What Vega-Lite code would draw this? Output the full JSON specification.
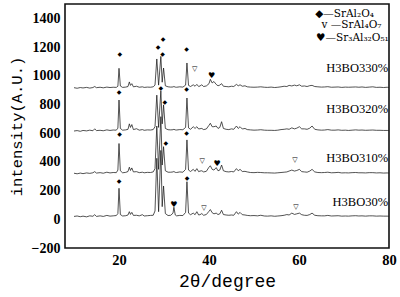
{
"$schema": "https://vega.github.io/schema/vega-lite/v6.json",
"width": 324, "height": 244,
"autosize": {"type": "none"},
"padding": {"left": 65, "top": 4, "right": 11, "bottom": 49},
"background": "white",
"config": {"view": {"stroke": "#111", "strokeWidth": 1.6}},
"datasets": {
"ref": [{"x":20.0,"t":-110},{"x":28.4,"t":-57},{"x":29.4,"t":-5},{"x":30.0,"t":-95},{"x":35.2,"t":-61},{"x":40.6,"t":-149},{"x":43.2,"t":-163},{"x":46.1,"t":-144},{"x":47.5,"t":-151},{"x":63.2,"t":-167}],
"marks": [
{"x":20.2,"y":1152,"m":"◆"},{"x":28.7,"y":1203,"m":"◆"},{"x":29.8,"y":1257,"m":"◆"},{"x":29.7,"y":1150,"m":"◆"},{"x":35.0,"y":1189,"m":"◆"},{"x":36.8,"y":1045,"m":"▽"},{"x":40.6,"y":997,"m":"♥"},
{"x":20.0,"y":889,"m":"◆"},{"x":29.3,"y":912,"m":"◆"},{"x":30.2,"y":817,"m":"◆"},{"x":35.0,"y":905,"m":"◆"},
{"x":20.1,"y":596,"m":"◆"},{"x":35.0,"y":604,"m":"◆"},{"x":30.4,"y":535,"m":"◆"},{"x":38.5,"y":406,"m":"▽"},{"x":41.8,"y":387,"m":"♥"},{"x":59.1,"y":413,"m":"▽"},
{"x":20.0,"y":269,"m":"◆"},{"x":35.1,"y":286,"m":"◆"},{"x":32.2,"y":100,"m":"♥"},{"x":38.9,"y":77,"m":"▽"},{"x":59.3,"y":88,"m":"▽"}],
"leg": [{"x":63.6,"y":1433,"t":"◆—SrAl₂O₄"},{"x":65.0,"y":1354,"t":"v —SrAl₄O₇"},{"x":63.8,"y":1266,"t":"♥—Sr₃Al₃₂O₅₁"}],
"lab": [{"x":79.8,"y":1055,"t":"H3BO330%"},{"x":79.8,"y":769,"t":"H3BO320%"},{"x":79.8,"y":427,"t":"H3BO310%"},{"x":79.8,"y":121,"t":"H3BO30%"}],
"xrd": [
{"s":"a","x":10.0,"y":917},{"s":"a","x":10.7,"y":913},{"s":"a","x":11.4,"y":918},{"s":"a","x":12.0,"y":915},{"s":"a","x":12.8,"y":919},{"s":"a","x":13.5,"y":914},{"s":"a","x":14.2,"y":918},{"s":"a","x":14.6,"y":925},{"s":"a","x":15.0,"y":917},{"s":"a","x":15.8,"y":920},{"s":"a","x":16.5,"y":916},{"s":"a","x":17.3,"y":921},{"s":"a","x":18.0,"y":918},{"s":"a","x":18.7,"y":920},{"s":"a","x":19.4,"y":919},{"s":"a","x":19.75,"y":927},{"s":"a","x":20.0,"y":1052},{"s":"a","x":20.3,"y":929},{"s":"a","x":20.8,"y":919},{"s":"a","x":21.5,"y":921},{"s":"a","x":22.0,"y":925},{"s":"a","x":22.3,"y":957},{"s":"a","x":22.55,"y":933},{"s":"a","x":22.85,"y":945},{"s":"a","x":23.2,"y":923},{"s":"a","x":23.9,"y":927},{"s":"a","x":24.5,"y":920},{"s":"a","x":25.2,"y":923},{"s":"a","x":25.6,"y":919},{"s":"a","x":26.3,"y":921},{"s":"a","x":27.0,"y":920},{"s":"a","x":27.6,"y":923},{"s":"a","x":28.0,"y":935},{"s":"a","x":28.4,"y":1117},{"s":"a","x":28.8,"y":935},{"s":"a","x":29.3,"y":1135},{"s":"a","x":29.6,"y":955},{"s":"a","x":29.9,"y":1054},{"s":"a","x":30.3,"y":930},{"s":"a","x":30.9,"y":923},{"s":"a","x":31.5,"y":921},{"s":"a","x":32.0,"y":922},{"s":"a","x":32.2,"y":925},{"s":"a","x":32.5,"y":921},{"s":"a","x":32.8,"y":920},{"s":"a","x":33.5,"y":923},{"s":"a","x":34.2,"y":921},{"s":"a","x":34.8,"y":935},{"s":"a","x":35.1,"y":1089},{"s":"a","x":35.45,"y":933},{"s":"a","x":35.9,"y":925},{"s":"a","x":36.5,"y":937},{"s":"a","x":36.9,"y":927},{"s":"a","x":37.3,"y":940},{"s":"a","x":37.7,"y":925},{"s":"a","x":38.0,"y":929},{"s":"a","x":38.4,"y":937},{"s":"a","x":38.8,"y":925},{"s":"a","x":39.4,"y":929},{"s":"a","x":40.0,"y":945},{"s":"a","x":40.3,"y":975},{"s":"a","x":40.7,"y":950},{"s":"a","x":41.1,"y":960},{"s":"a","x":41.6,"y":940},{"s":"a","x":42.0,"y":930},{"s":"a","x":42.4,"y":935},{"s":"a","x":42.8,"y":945},{"s":"a","x":43.2,"y":927},{"s":"a","x":43.8,"y":925},{"s":"a","x":44.4,"y":923},{"s":"a","x":45.0,"y":927},{"s":"a","x":45.5,"y":925},{"s":"a","x":46.1,"y":940},{"s":"a","x":46.5,"y":930},{"s":"a","x":46.9,"y":937},{"s":"a","x":47.4,"y":927},{"s":"a","x":48.0,"y":930},{"s":"a","x":48.5,"y":923},{"s":"a","x":49.2,"y":921},{"s":"a","x":50.0,"y":920},{"s":"a","x":50.8,"y":921},{"s":"a","x":51.5,"y":923},{"s":"a","x":52.3,"y":920},{"s":"a","x":53.0,"y":919},{"s":"a","x":53.8,"y":921},{"s":"a","x":54.6,"y":918},{"s":"a","x":55.3,"y":920},{"s":"a","x":56.0,"y":923},{"s":"a","x":56.7,"y":927},{"s":"a","x":57.3,"y":925},{"s":"a","x":57.8,"y":933},{"s":"a","x":58.4,"y":929},{"s":"a","x":59.0,"y":935},{"s":"a","x":59.5,"y":930},{"s":"a","x":60.1,"y":937},{"s":"a","x":60.6,"y":927},{"s":"a","x":61.2,"y":929},{"s":"a","x":61.8,"y":925},{"s":"a","x":62.4,"y":931},{"s":"a","x":62.9,"y":933},{"s":"a","x":63.5,"y":925},{"s":"a","x":64.2,"y":923},{"s":"a","x":65.0,"y":921},{"s":"a","x":65.7,"y":922},{"s":"a","x":66.4,"y":924},{"s":"a","x":67.2,"y":920},{"s":"a","x":68.0,"y":921},{"s":"a","x":68.7,"y":922},{"s":"a","x":69.5,"y":919},{"s":"a","x":70.3,"y":921},{"s":"a","x":71.0,"y":920},{"s":"a","x":71.8,"y":921},{"s":"a","x":72.6,"y":922},{"s":"a","x":73.3,"y":920},{"s":"a","x":74.0,"y":922},{"s":"a","x":74.8,"y":919},{"s":"a","x":75.6,"y":921},{"s":"a","x":76.4,"y":923},{"s":"a","x":77.2,"y":919},{"s":"a","x":78.0,"y":920},{"s":"a","x":78.8,"y":918},{"s":"a","x":79.6,"y":920},{"s":"a","x":80.0,"y":918},
{"s":"b","x":10.0,"y":615},{"s":"b","x":10.7,"y":618},{"s":"b","x":11.4,"y":613},{"s":"b","x":12.0,"y":619},{"s":"b","x":12.8,"y":616},{"s":"b","x":13.5,"y":621},{"s":"b","x":14.2,"y":617},{"s":"b","x":14.6,"y":630},{"s":"b","x":15.0,"y":618},{"s":"b","x":15.8,"y":620},{"s":"b","x":16.5,"y":617},{"s":"b","x":17.3,"y":623},{"s":"b","x":18.0,"y":619},{"s":"b","x":18.7,"y":622},{"s":"b","x":19.4,"y":621},{"s":"b","x":19.75,"y":635},{"s":"b","x":20.0,"y":831},{"s":"b","x":20.3,"y":633},{"s":"b","x":20.8,"y":621},{"s":"b","x":21.5,"y":623},{"s":"b","x":22.0,"y":627},{"s":"b","x":22.3,"y":665},{"s":"b","x":22.55,"y":640},{"s":"b","x":22.85,"y":660},{"s":"b","x":23.2,"y":625},{"s":"b","x":23.9,"y":631},{"s":"b","x":24.5,"y":621},{"s":"b","x":25.2,"y":625},{"s":"b","x":25.6,"y":620},{"s":"b","x":26.3,"y":623},{"s":"b","x":27.0,"y":622},{"s":"b","x":27.6,"y":625},{"s":"b","x":28.0,"y":645},{"s":"b","x":28.4,"y":865},{"s":"b","x":28.8,"y":640},{"s":"b","x":29.3,"y":895},{"s":"b","x":29.6,"y":665},{"s":"b","x":29.9,"y":797},{"s":"b","x":30.3,"y":633},{"s":"b","x":30.9,"y":624},{"s":"b","x":31.5,"y":623},{"s":"b","x":32.0,"y":624},{"s":"b","x":32.2,"y":627},{"s":"b","x":32.5,"y":623},{"s":"b","x":32.8,"y":622},{"s":"b","x":33.5,"y":625},{"s":"b","x":34.2,"y":624},{"s":"b","x":34.8,"y":640},{"s":"b","x":35.1,"y":845},{"s":"b","x":35.45,"y":637},{"s":"b","x":35.9,"y":627},{"s":"b","x":36.5,"y":645},{"s":"b","x":36.9,"y":633},{"s":"b","x":37.3,"y":645},{"s":"b","x":37.7,"y":629},{"s":"b","x":38.0,"y":631},{"s":"b","x":38.4,"y":633},{"s":"b","x":38.8,"y":625},{"s":"b","x":39.4,"y":629},{"s":"b","x":40.0,"y":655},{"s":"b","x":40.3,"y":669},{"s":"b","x":40.7,"y":645},{"s":"b","x":41.1,"y":645},{"s":"b","x":41.6,"y":650},{"s":"b","x":42.0,"y":633},{"s":"b","x":42.4,"y":640},{"s":"b","x":42.8,"y":680},{"s":"b","x":43.2,"y":633},{"s":"b","x":43.8,"y":627},{"s":"b","x":44.4,"y":625},{"s":"b","x":45.0,"y":630},{"s":"b","x":45.5,"y":627},{"s":"b","x":46.1,"y":650},{"s":"b","x":46.5,"y":633},{"s":"b","x":46.9,"y":645},{"s":"b","x":47.4,"y":629},{"s":"b","x":48.0,"y":633},{"s":"b","x":48.5,"y":625},{"s":"b","x":49.2,"y":623},{"s":"b","x":50.0,"y":621},{"s":"b","x":50.8,"y":622},{"s":"b","x":51.5,"y":624},{"s":"b","x":52.3,"y":621},{"s":"b","x":53.0,"y":620},{"s":"b","x":53.8,"y":620},{"s":"b","x":54.6,"y":619},{"s":"b","x":55.3,"y":621},{"s":"b","x":56.0,"y":625},{"s":"b","x":56.7,"y":627},{"s":"b","x":57.3,"y":630},{"s":"b","x":57.8,"y":627},{"s":"b","x":58.4,"y":637},{"s":"b","x":59.0,"y":630},{"s":"b","x":59.5,"y":635},{"s":"b","x":60.1,"y":645},{"s":"b","x":60.6,"y":630},{"s":"b","x":61.2,"y":630},{"s":"b","x":61.8,"y":627},{"s":"b","x":62.4,"y":635},{"s":"b","x":62.9,"y":650},{"s":"b","x":63.5,"y":627},{"s":"b","x":64.2,"y":623},{"s":"b","x":65.0,"y":621},{"s":"b","x":65.7,"y":622},{"s":"b","x":66.4,"y":625},{"s":"b","x":67.2,"y":621},{"s":"b","x":68.0,"y":621},{"s":"b","x":68.7,"y":623},{"s":"b","x":69.5,"y":620},{"s":"b","x":70.3,"y":621},{"s":"b","x":71.0,"y":619},{"s":"b","x":71.8,"y":621},{"s":"b","x":72.6,"y":623},{"s":"b","x":73.3,"y":621},{"s":"b","x":74.0,"y":622},{"s":"b","x":74.8,"y":620},{"s":"b","x":75.6,"y":621},{"s":"b","x":76.4,"y":622},{"s":"b","x":77.2,"y":620},{"s":"b","x":78.0,"y":620},{"s":"b","x":78.8,"y":619},{"s":"b","x":79.6,"y":619},{"s":"b","x":80.0,"y":618},
{"s":"c","x":10.0,"y":321},{"s":"c","x":10.7,"y":317},{"s":"c","x":11.4,"y":322},{"s":"c","x":12.0,"y":318},{"s":"c","x":12.8,"y":323},{"s":"c","x":13.5,"y":320},{"s":"c","x":14.2,"y":324},{"s":"c","x":14.6,"y":332},{"s":"c","x":15.0,"y":322},{"s":"c","x":15.8,"y":325},{"s":"c","x":16.5,"y":321},{"s":"c","x":17.3,"y":328},{"s":"c","x":18.0,"y":323},{"s":"c","x":18.7,"y":326},{"s":"c","x":19.4,"y":325},{"s":"c","x":19.75,"y":343},{"s":"c","x":20.0,"y":528},{"s":"c","x":20.3,"y":338},{"s":"c","x":20.8,"y":324},{"s":"c","x":21.5,"y":327},{"s":"c","x":22.0,"y":333},{"s":"c","x":22.3,"y":363},{"s":"c","x":22.55,"y":340},{"s":"c","x":22.85,"y":358},{"s":"c","x":23.2,"y":330},{"s":"c","x":23.9,"y":332},{"s":"c","x":24.5,"y":325},{"s":"c","x":25.2,"y":328},{"s":"c","x":25.6,"y":324},{"s":"c","x":26.3,"y":327},{"s":"c","x":27.0,"y":326},{"s":"c","x":27.6,"y":330},{"s":"c","x":28.0,"y":353},{"s":"c","x":28.4,"y":650},{"s":"c","x":28.8,"y":348},{"s":"c","x":29.3,"y":715},{"s":"c","x":29.6,"y":378},{"s":"c","x":29.9,"y":506},{"s":"c","x":30.3,"y":338},{"s":"c","x":30.9,"y":328},{"s":"c","x":31.5,"y":328},{"s":"c","x":32.0,"y":330},{"s":"c","x":32.2,"y":333},{"s":"c","x":32.5,"y":327},{"s":"c","x":32.8,"y":326},{"s":"c","x":33.5,"y":330},{"s":"c","x":34.2,"y":328},{"s":"c","x":34.8,"y":348},{"s":"c","x":35.1,"y":553},{"s":"c","x":35.45,"y":343},{"s":"c","x":35.9,"y":333},{"s":"c","x":36.5,"y":348},{"s":"c","x":36.9,"y":334},{"s":"c","x":37.3,"y":353},{"s":"c","x":37.7,"y":332},{"s":"c","x":38.0,"y":336},{"s":"c","x":38.4,"y":338},{"s":"c","x":38.8,"y":330},{"s":"c","x":39.4,"y":334},{"s":"c","x":40.0,"y":363},{"s":"c","x":40.3,"y":373},{"s":"c","x":40.7,"y":348},{"s":"c","x":41.1,"y":343},{"s":"c","x":41.6,"y":360},{"s":"c","x":42.0,"y":338},{"s":"c","x":42.4,"y":343},{"s":"c","x":42.8,"y":378},{"s":"c","x":43.2,"y":338},{"s":"c","x":43.8,"y":332},{"s":"c","x":44.4,"y":330},{"s":"c","x":45.0,"y":333},{"s":"c","x":45.5,"y":330},{"s":"c","x":46.1,"y":353},{"s":"c","x":46.5,"y":338},{"s":"c","x":46.9,"y":348},{"s":"c","x":47.4,"y":333},{"s":"c","x":48.0,"y":334},{"s":"c","x":48.5,"y":330},{"s":"c","x":49.2,"y":326},{"s":"c","x":50.0,"y":325},{"s":"c","x":50.8,"y":327},{"s":"c","x":51.5,"y":326},{"s":"c","x":52.3,"y":324},{"s":"c","x":53.0,"y":324},{"s":"c","x":53.8,"y":323},{"s":"c","x":54.6,"y":322},{"s":"c","x":55.3,"y":324},{"s":"c","x":56.0,"y":326},{"s":"c","x":56.7,"y":328},{"s":"c","x":57.3,"y":330},{"s":"c","x":57.8,"y":336},{"s":"c","x":58.4,"y":343},{"s":"c","x":59.0,"y":336},{"s":"c","x":59.5,"y":340},{"s":"c","x":60.1,"y":348},{"s":"c","x":60.6,"y":332},{"s":"c","x":61.2,"y":330},{"s":"c","x":61.8,"y":328},{"s":"c","x":62.4,"y":336},{"s":"c","x":62.9,"y":348},{"s":"c","x":63.5,"y":330},{"s":"c","x":64.2,"y":326},{"s":"c","x":65.0,"y":325},{"s":"c","x":65.7,"y":326},{"s":"c","x":66.4,"y":328},{"s":"c","x":67.2,"y":324},{"s":"c","x":68.0,"y":325},{"s":"c","x":68.7,"y":327},{"s":"c","x":69.5,"y":323},{"s":"c","x":70.3,"y":324},{"s":"c","x":71.0,"y":323},{"s":"c","x":71.8,"y":325},{"s":"c","x":72.6,"y":326},{"s":"c","x":73.3,"y":324},{"s":"c","x":74.0,"y":324},{"s":"c","x":74.8,"y":323},{"s":"c","x":75.6,"y":325},{"s":"c","x":76.4,"y":325},{"s":"c","x":77.2,"y":323},{"s":"c","x":78.0,"y":324},{"s":"c","x":78.8,"y":322},{"s":"c","x":79.6,"y":323},{"s":"c","x":80.0,"y":322},
{"s":"d","x":10.0,"y":20},{"s":"d","x":10.7,"y":23},{"s":"d","x":11.4,"y":18},{"s":"d","x":12.0,"y":22},{"s":"d","x":12.8,"y":17},{"s":"d","x":13.5,"y":24},{"s":"d","x":14.2,"y":21},{"s":"d","x":14.6,"y":32},{"s":"d","x":15.0,"y":20},{"s":"d","x":15.8,"y":24},{"s":"d","x":16.5,"y":20},{"s":"d","x":17.3,"y":27},{"s":"d","x":18.0,"y":22},{"s":"d","x":18.7,"y":24},{"s":"d","x":19.4,"y":26},{"s":"d","x":19.75,"y":40},{"s":"d","x":20.0,"y":216},{"s":"d","x":20.3,"y":33},{"s":"d","x":20.8,"y":23},{"s":"d","x":21.5,"y":25},{"s":"d","x":22.0,"y":30},{"s":"d","x":22.3,"y":53},{"s":"d","x":22.55,"y":34},{"s":"d","x":22.85,"y":48},{"s":"d","x":23.2,"y":27},{"s":"d","x":23.9,"y":28},{"s":"d","x":24.5,"y":24},{"s":"d","x":25.2,"y":32},{"s":"d","x":25.6,"y":23},{"s":"d","x":26.3,"y":25},{"s":"d","x":27.0,"y":27},{"s":"d","x":27.6,"y":28},{"s":"d","x":28.0,"y":58},{"s":"d","x":28.4,"y":425},{"s":"d","x":28.8,"y":53},{"s":"d","x":29.3,"y":480},{"s":"d","x":29.6,"y":88},{"s":"d","x":29.9,"y":232},{"s":"d","x":30.3,"y":40},{"s":"d","x":30.9,"y":26},{"s":"d","x":31.5,"y":28},{"s":"d","x":32.0,"y":43},{"s":"d","x":32.2,"y":84},{"s":"d","x":32.5,"y":30},{"s":"d","x":32.8,"y":24},{"s":"d","x":33.5,"y":27},{"s":"d","x":34.2,"y":26},{"s":"d","x":34.8,"y":48},{"s":"d","x":35.1,"y":262},{"s":"d","x":35.45,"y":43},{"s":"d","x":35.9,"y":32},{"s":"d","x":36.5,"y":43},{"s":"d","x":36.9,"y":32},{"s":"d","x":37.3,"y":53},{"s":"d","x":37.7,"y":30},{"s":"d","x":38.0,"y":32},{"s":"d","x":38.4,"y":40},{"s":"d","x":38.8,"y":28},{"s":"d","x":39.4,"y":33},{"s":"d","x":40.0,"y":56},{"s":"d","x":40.3,"y":68},{"s":"d","x":40.7,"y":46},{"s":"d","x":41.1,"y":38},{"s":"d","x":41.6,"y":43},{"s":"d","x":42.0,"y":33},{"s":"d","x":42.4,"y":38},{"s":"d","x":42.8,"y":63},{"s":"d","x":43.2,"y":33},{"s":"d","x":43.8,"y":30},{"s":"d","x":44.4,"y":28},{"s":"d","x":45.0,"y":30},{"s":"d","x":45.5,"y":28},{"s":"d","x":46.1,"y":53},{"s":"d","x":46.5,"y":36},{"s":"d","x":46.9,"y":48},{"s":"d","x":47.4,"y":32},{"s":"d","x":48.0,"y":30},{"s":"d","x":48.5,"y":27},{"s":"d","x":49.2,"y":25},{"s":"d","x":50.0,"y":26},{"s":"d","x":50.8,"y":24},{"s":"d","x":51.5,"y":28},{"s":"d","x":52.3,"y":23},{"s":"d","x":53.0,"y":22},{"s":"d","x":53.8,"y":24},{"s":"d","x":54.6,"y":21},{"s":"d","x":55.3,"y":23},{"s":"d","x":56.0,"y":25},{"s":"d","x":56.7,"y":28},{"s":"d","x":57.3,"y":33},{"s":"d","x":57.8,"y":30},{"s":"d","x":58.4,"y":43},{"s":"d","x":59.0,"y":34},{"s":"d","x":59.5,"y":38},{"s":"d","x":60.1,"y":43},{"s":"d","x":60.6,"y":32},{"s":"d","x":61.2,"y":28},{"s":"d","x":61.8,"y":27},{"s":"d","x":62.4,"y":33},{"s":"d","x":62.9,"y":43},{"s":"d","x":63.5,"y":28},{"s":"d","x":64.2,"y":25},{"s":"d","x":65.0,"y":24},{"s":"d","x":65.7,"y":24},{"s":"d","x":66.4,"y":27},{"s":"d","x":67.2,"y":23},{"s":"d","x":68.0,"y":24},{"s":"d","x":68.7,"y":25},{"s":"d","x":69.5,"y":22},{"s":"d","x":70.3,"y":23},{"s":"d","x":71.0,"y":22},{"s":"d","x":71.8,"y":24},{"s":"d","x":72.6,"y":25},{"s":"d","x":73.3,"y":23},{"s":"d","x":74.0,"y":24},{"s":"d","x":74.8,"y":22},{"s":"d","x":75.6,"y":24},{"s":"d","x":76.4,"y":24},{"s":"d","x":77.2,"y":22},{"s":"d","x":78.0,"y":23},{"s":"d","x":78.8,"y":22},{"s":"d","x":79.6,"y":22},{"s":"d","x":80.0,"y":21}
]
},
"encoding": {
"x": {"field": "x", "type": "quantitative", "scale": {"domain": [8, 80], "nice": false, "zero": false},
"axis": {"title": "2θ/degree", "values": [20, 40, 60, 80], "format": "d", "grid": false, "ticks": false, "domain": false, "labelFlush": false,
"labelFont": "Liberation Serif", "labelFontWeight": "bold", "labelFontSize": 14.5, "labelColor": "#000", "labelPadding": 5,
"titleFont": "Liberation Mono", "titleFontWeight": "normal", "titleFontSize": 18, "titleColor": "#000", "titlePadding": 6}},
"y": {"field": "y", "type": "quantitative", "scale": {"domain": [-200, 1500], "nice": false, "zero": false},
"axis": {"title": "intensity(A.U.)", "values": [-200, 0, 200, 400, 600, 800, 1000, 1200, 1400], "format": "d", "grid": false, "ticks": false, "domain": false, "labelFlush": false,
"labelFont": "Liberation Serif", "labelFontWeight": "bold", "labelFontSize": 14, "labelColor": "#000", "labelPadding": 5,
"titleFont": "Liberation Mono", "titleFontWeight": "normal", "titleFontSize": 15.5, "titleColor": "#000", "titlePadding": 7}}
},
"layer": [
{"data": {"name": "ref"}, "mark": {"type": "rule", "color": "#ff8080", "strokeWidth": 1.5},
 "encoding": {"y": {"datum": -200}, "y2": {"field": "t"}}},
{"data": {"name": "xrd"}, "mark": {"type": "line", "color": "#1a1a1a", "strokeWidth": 0.75},
 "encoding": {"detail": {"field": "s"}}},
{"data": {"name": "marks"}, "mark": {"type": "text", "color": "#000", "font": "DejaVu Sans", "baseline": "middle", "align": "center"},
 "encoding": {"text": {"field": "m"}, "size": {"field": "m", "type": "nominal", "scale": {"domain": ["◆", "▽", "♥"], "range": [6, 8, 9]}, "legend": null}}},
{"data": {"name": "leg"}, "mark": {"type": "text", "color": "#000", "font": "DejaVu Serif", "fontSize": 10.5, "baseline": "middle", "align": "left"},
 "encoding": {"text": {"field": "t"}}},
{"data": {"name": "lab"}, "mark": {"type": "text", "color": "#000", "font": "Liberation Serif", "fontSize": 12.5, "baseline": "middle", "align": "right"},
 "encoding": {"text": {"field": "t"}}}
]
}
